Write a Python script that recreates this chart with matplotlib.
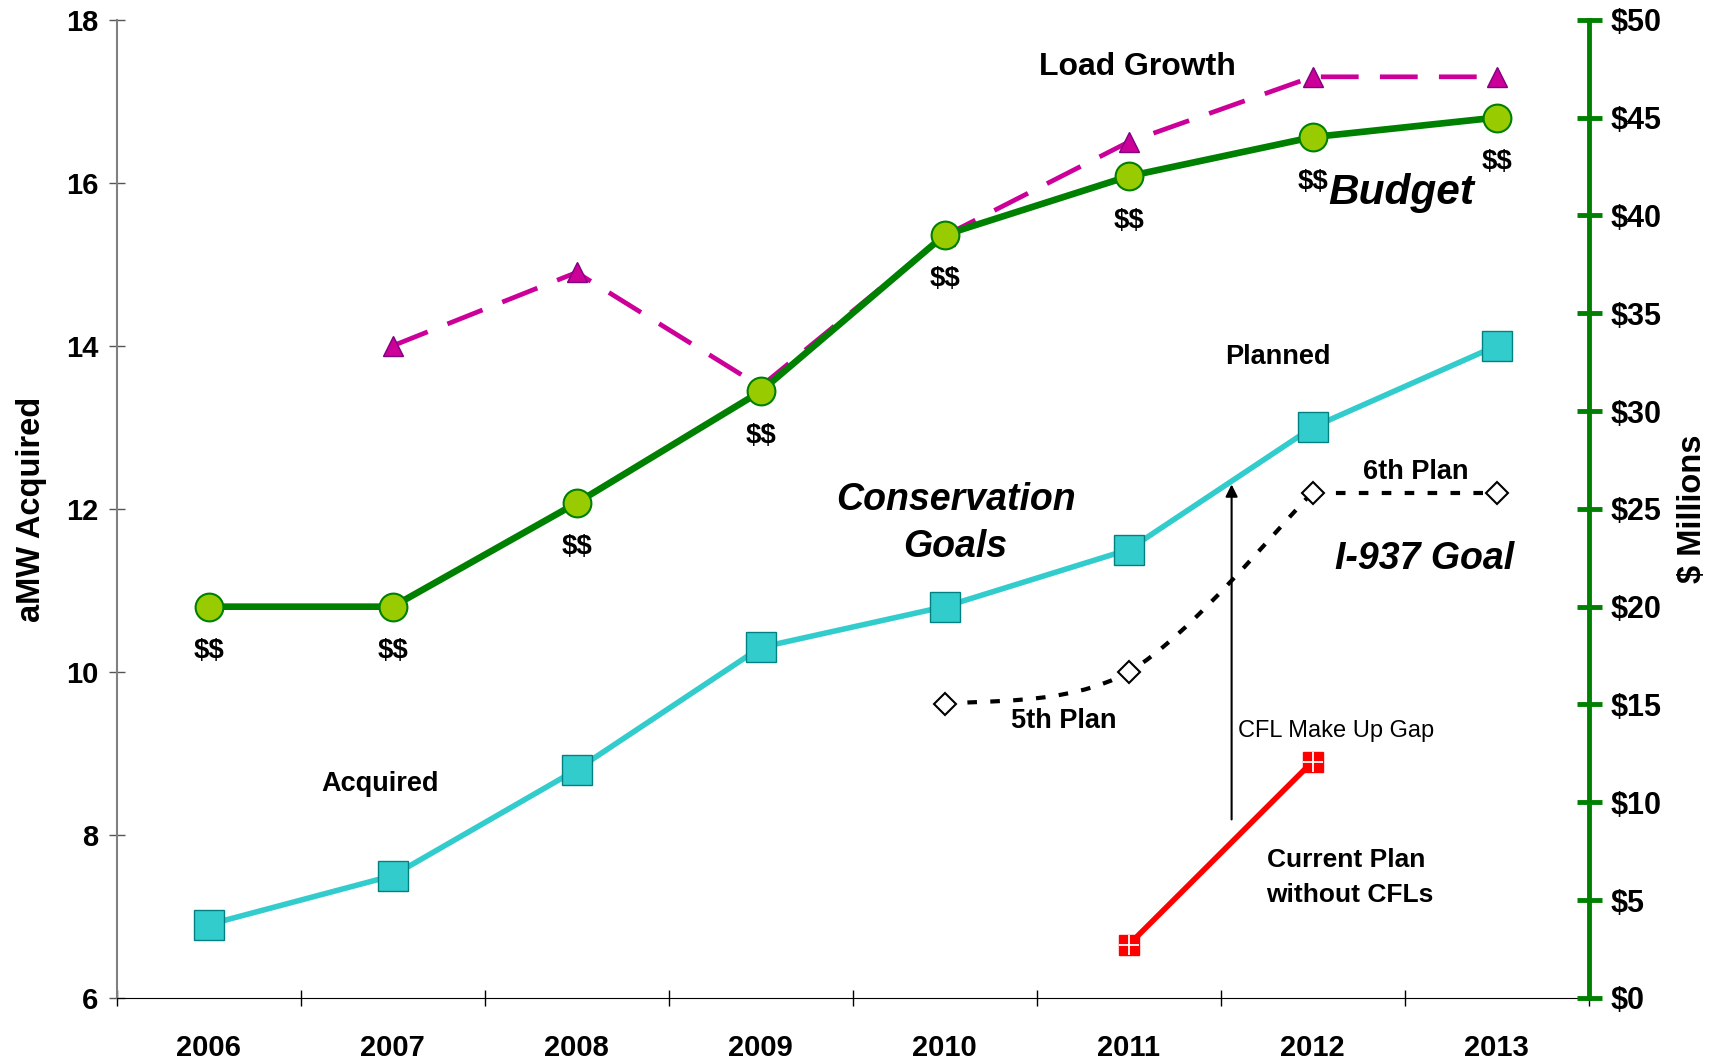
import matplotlib
matplotlib.use("Agg")
import matplotlib.pyplot as plt
from matplotlib.path import Path
from matplotlib.patches import PathPatch

plt.rcParams['font.family'] = ['Liberation Sans', 'DejaVu Sans']

# data
years = ['2006', '2007', '2008', '2009', '2010', '2011', '2012', '2013']
acquired = [6.9, 7.5, 8.8, 10.3, 10.8, 11.5, 13.0, 14.0]          # aMW
budget = [20.0, 20.0, 25.3, 31.0, 39.0, 42.0, 44.0, 45.0]         # $ millions
load_growth_idx = [1, 2, 3, 4, 5, 6, 7]
load_growth = [14.0, 14.9, 13.5, 15.35, 16.5, 17.3, 17.3]
plan5_idx = [4, 5, 6]
plan5 = [9.6, 10.0, 12.2]
plan6_idx = [6, 7]
plan6 = [12.2, 12.2]
cfl_idx = [5, 6]
cfl_plan = [6.65, 8.9]
gap_x = 5.56
gap_from, gap_to = 8.19, 12.3

x = list(range(len(years)))

fig = plt.figure(figsize=(17.25, 10.62), dpi=100)
ax = fig.add_axes([0.0676, 0.0603, 0.8533, 0.9211])
ax2 = ax.twinx()

# cyan acquired / planned
ax.plot(x, acquired, color='#33CCCC', lw=4, marker='s', ms=21,
        mfc='#33CCCC', mec='#008080', mew=1, zorder=3)

# load growth
ax.plot(load_growth_idx, load_growth, color='#CC0099', lw=3.4,
        dashes=(8, 4.5), marker='^', ms=14, mfc='#CC0099', mec='#800080',
        mew=1, zorder=2)

# 5th plan smoothed (catmull-rom as bezier)
px = [plan5_idx[0]] + plan5_idx + [plan5_idx[-1]]
py = [plan5[0]] + plan5 + [plan5[-1]]
verts = [(px[1], py[1])]
codes = [Path.MOVETO]
for i in range(1, len(px) - 2):
    c1 = (px[i] + (px[i + 1] - px[i - 1]) / 6, py[i] + (py[i + 1] - py[i - 1]) / 6)
    c2 = (px[i + 1] - (px[i + 2] - px[i]) / 6, py[i + 1] - (py[i + 2] - py[i]) / 6)
    verts += [c1, c2, (px[i + 1], py[i + 1])]
    codes += [Path.CURVE4] * 3
ax.add_patch(PathPatch(Path(verts, codes), fill=False, color='black', lw=3,
                       linestyle=(0, (2.3, 3.2)), zorder=2))
ax.plot(plan6_idx, plan6, color='black', lw=3, linestyle=(0, (2.3, 3.2)), zorder=2)
ax.plot(plan5_idx + plan6_idx[1:], plan5 + plan6[1:], ls='none', marker='D',
        ms=11, mfc='white', mec='black', mew=1.5, zorder=4)

# current plan without CFLs
ax.plot(cfl_idx, cfl_plan, color='#FF0000', lw=4, marker='s', ms=15,
        mfc='#FF0000', mec='#FF0000', zorder=3)
ax.plot(cfl_idx, cfl_plan, ls='none', marker='+', ms=14, mew=1.3,
        color='white', zorder=4)

# gap arrow
ax.annotate('', xy=(gap_x, gap_to), xytext=(gap_x, gap_from),
            arrowprops=dict(arrowstyle='-|>', color='black', lw=1.5,
                            mutation_scale=18, shrinkA=0, shrinkB=0), zorder=1)

# budget on right axis
ax2.plot(x, budget, color='#008000', lw=4.8, marker='o', ms=20,
         mfc='#99CC00', mec='#008000', mew=1.5, zorder=3)
for xi, b in zip(x, budget):
    ax2.annotate(r'\$\$', (xi, b), xytext=(0, -32), textcoords='offset points',
                 ha='center', va='center', fontsize=20, fontweight='bold')

# axes setup
ax.set_xlim(-0.5, 7.5)
ax.set_ylim(6, 18)
ax2.set_ylim(0, 50)
ax.set_yticks(range(6, 19, 2))
ax.set_xticks([i - 0.5 for i in range(9)])
ax.set_xticklabels([])
ax.set_xticks(x, minor=True)
ax.set_xticklabels(years, minor=True)
ax.tick_params(axis='x', which='major', direction='inout', length=12, width=1)
ax.tick_params(axis='x', which='minor', length=0, pad=26, labelsize=21)
ax.tick_params(axis='y', direction='inout', length=12, width=1, pad=7,
               labelsize=21, color='#555555')
for lbl in ax.get_xticklabels(minor=True) + ax.get_yticklabels():
    lbl.set_fontweight('bold')

ax2.set_yticks(range(0, 51, 5))
ax2.set_yticklabels([r'\$%d' % v for v in range(0, 51, 5)])
ax2.tick_params(axis='y', direction='inout', length=18, width=3.5,
                color='#008000', pad=7, labelsize=22)
for lbl in ax2.get_yticklabels():
    lbl.set_fontweight('bold')

ax.spines['top'].set_visible(False)
ax.spines['right'].set_visible(False)
ax.spines['left'].set_color('#808080')
ax.spines['left'].set_linewidth(1.5)
ax2.spines['top'].set_visible(False)
ax2.spines['left'].set_visible(False)
ax2.spines['bottom'].set_visible(False)
ax2.spines['right'].set_color('#008000')
ax2.spines['right'].set_linewidth(3.5)

fig.text(0.018, 0.52, 'aMW Acquired', rotation=90, ha='center', va='center',
         fontsize=23.5, fontweight='bold')
fig.text(0.981, 0.521, r'\$ Millions', rotation=90, ha='center', va='center',
         fontsize=23.5, fontweight='bold')

# annotations
ax.text(5.05, 17.42, 'Load Growth', ha='center', va='center', fontsize=23, fontweight='bold')
ax.text(6.48, 15.87, 'Budget', ha='center', va='center', fontsize=30.5,
        fontweight='bold', style='italic')
ax.text(5.81, 13.86, 'Planned', ha='center', va='center', fontsize=19.5, fontweight='bold')
ax.text(6.56, 12.45, '6th Plan', ha='center', va='center', fontsize=19.5, fontweight='bold')
ax.text(4.06, 11.82, 'Conservation\nGoals', ha='center', va='center', fontsize=27,
        fontweight='bold', style='italic', linespacing=1.36)
ax.text(6.61, 11.39, 'I-937 Goal', ha='center', va='center', fontsize=27,
        fontweight='bold', style='italic')
ax.text(4.65, 9.40, '5th Plan', ha='center', va='center', fontsize=19.5, fontweight='bold')
ax.text(6.13, 9.27, 'CFL Make Up Gap', ha='center', va='center', fontsize=17)
ax.text(0.93, 8.63, 'Acquired', ha='center', va='center', fontsize=19.5, fontweight='bold')
ax.text(5.75, 7.48, 'Current Plan\nwithout CFLs', ha='left', va='center', fontsize=19,
        fontweight='bold', linespacing=1.55)

fig.savefig('out.png', dpi=100)
